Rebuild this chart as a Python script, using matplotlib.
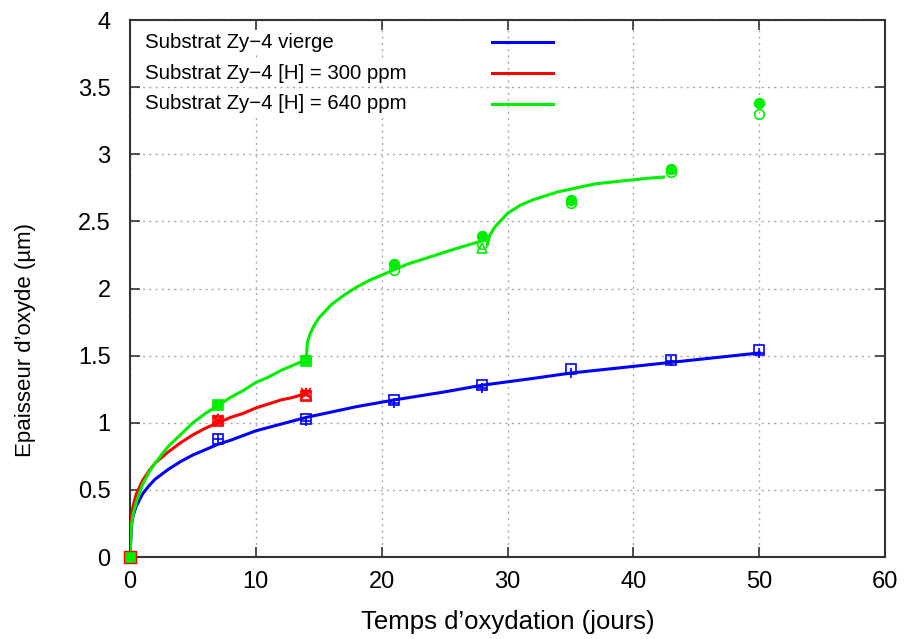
import matplotlib
matplotlib.use("Agg")
import matplotlib.pyplot as plt
from matplotlib.lines import Line2D

plt.rcParams['font.family'] = ['Liberation Sans', 'DejaVu Sans']

# ---- measured points ----
# Substrat Zy-4 vierge (blue)
blue_t = [0, 7, 14, 21, 28, 35, 43, 50]
blue_sq = [0, 0.88, 1.03, 1.17, 1.28, 1.40, 1.47, 1.54]
blue_plus = [0, 0.88, 1.01, 1.15, 1.26, 1.37, 1.46, 1.52]

# Substrat Zy-4 [H] = 300 ppm (red)
red_t = [0, 7, 14]
red_sq = [0, 1.01, 1.20]
red_x = [0, 1.02, 1.22]
red_star = [0, 1.03, 1.22]
red_tri = [0, 1.02, 1.21]

# Substrat Zy-4 [H] = 640 ppm (green)
green_sq_t = [0, 7, 14]
green_sq = [0, 1.13, 1.46]
green_fc_t = [14, 21, 28, 35, 43, 50]
green_fc = [1.47, 2.18, 2.39, 2.66, 2.89, 3.38]
green_oc_t = [21, 28, 35, 43, 50]
green_oc = [2.14, 2.33, 2.64, 2.87, 3.30]
green_tri_t = [28]
green_tri = [2.30]

# ---- fitted curves ----
blue_ct = [0, 0.1, 0.25, 0.5, 1, 1.5, 2, 3, 4, 5, 6, 7, 8, 10, 12, 14, 16, 18, 21, 25, 28,
           32, 35, 40, 43, 47, 50]
blue_cv = [0, 0.23, 0.31, 0.38, 0.47, 0.53, 0.58, 0.65, 0.71, 0.76, 0.80, 0.84, 0.87, 0.94,
           0.99, 1.04, 1.08, 1.12, 1.17, 1.23, 1.28, 1.33, 1.37, 1.42, 1.45, 1.49, 1.52]

red_ct = [0, 0.1, 0.25, 0.5, 1, 1.5, 2, 3, 4, 5, 6, 7, 8, 9, 10, 11, 12, 13, 14]
red_cv = [0, 0.30, 0.38, 0.47, 0.57, 0.64, 0.70, 0.78, 0.85, 0.91, 0.96, 1.00, 1.04, 1.07,
          1.11, 1.14, 1.17, 1.19, 1.22]

green1_ct = [0, 0.1, 0.25, 0.5, 1, 1.5, 2, 3, 4, 5, 6, 7, 8, 9, 10, 11, 12, 13, 14]
green1_cv = [0, 0.23, 0.32, 0.41, 0.54, 0.63, 0.70, 0.82, 0.91, 1.00, 1.07, 1.13, 1.19, 1.24,
             1.30, 1.34, 1.39, 1.43, 1.47]
green2_ct = [14, 14.1, 14.3, 14.6, 15, 15.5, 16, 17, 18, 19, 20, 22, 24, 26, 27.8]
green2_cv = [1.47, 1.60, 1.66, 1.72, 1.78, 1.83, 1.88, 1.95, 2.01, 2.06, 2.10, 2.18, 2.24,
             2.30, 2.35]
green3_ct = [28.4, 28.6, 29, 29.5, 30, 31, 32, 33, 34, 35, 36, 37, 38, 39, 40, 41, 42.4]
green3_cv = [2.33, 2.40, 2.46, 2.51, 2.56, 2.62, 2.66, 2.69, 2.72, 2.74, 2.76, 2.78, 2.79,
             2.80, 2.81, 2.82, 2.83]

labels = ["Substrat Zy\u22124 vierge",
          "Substrat Zy\u22124 [H] = 300 ppm",
          "Substrat Zy\u22124 [H] = 640 ppm"]
x_ticks = [0, 10, 20, 30, 40, 50, 60]
y_ticks = [0, 0.5, 1, 1.5, 2, 2.5, 3, 3.5, 4]
y_ticklabels = ["0", "0.5", "1", "1.5", "2", "2.5", "3", "3.5", "4"]

BLUE = "#0000ff"
RED = "#ff0000"
GREEN = "#00ee00"

fig = plt.figure(figsize=(9.06, 6.39), dpi=100)
ax = fig.add_axes([0.1435, 0.1283, 0.8335, 0.8404])

lw = 2.2
ms = 7
mew = 1.2
# curves
ax.plot(blue_ct, blue_cv, color=BLUE, lw=lw, zorder=3)
ax.plot(red_ct, red_cv, color=RED, lw=lw, zorder=3)
ax.plot(green1_ct, green1_cv, color=GREEN, lw=lw, zorder=3)
ax.plot(green2_ct, green2_cv, color=GREEN, lw=lw, zorder=3)
ax.plot(green3_ct, green3_cv, color=GREEN, lw=lw, zorder=3)

# markers
ax.plot(blue_t, blue_sq, ls='none', marker='s', ms=ms, mfc='none', mec=BLUE, mew=mew, zorder=4)
ax.plot(blue_t, blue_plus, ls='none', marker='+', ms=ms, mec=BLUE, mew=mew, zorder=4)

ax.plot(red_t, red_sq, ls='none', marker='s', ms=ms, mfc='none', mec=RED, mew=mew, zorder=4)
ax.plot(red_t, red_x, ls='none', marker='x', ms=ms, mec=RED, mew=mew, zorder=4)
ax.plot(red_t, red_star, ls='none', marker='*', ms=ms, mfc='none', mec=RED, mew=mew, zorder=4)
ax.plot(red_t, red_tri, ls='none', marker='^', ms=ms, mfc='none', mec=RED, mew=mew, zorder=4)

ax.plot(green_sq_t, green_sq, ls='none', marker='s', ms=ms, mfc=GREEN, mec=GREEN, mew=mew, zorder=5)
ax.plot(green_fc_t, green_fc, ls='none', marker='o', ms=ms, mfc=GREEN, mec=GREEN, mew=mew, zorder=5)
ax.plot(green_oc_t, green_oc, ls='none', marker='o', ms=ms, mfc='none', mec=GREEN, mew=mew, zorder=5)
ax.plot(green_tri_t, green_tri, ls='none', marker='^', ms=ms, mfc='none', mec=GREEN, mew=mew, zorder=5)
# origin: green filled square with red outline
ax.plot(green_sq_t[:1], green_sq[:1], ls='none', marker='s', ms=ms + 1, mfc=GREEN, mec=RED,
        mew=1.0, zorder=6, clip_on=False)

ax.set_xlim(x_ticks[0], x_ticks[-1])
ax.set_ylim(y_ticks[0], y_ticks[-1])
ax.set_xticks(x_ticks)
ax.set_yticks(y_ticks)
ax.set_yticklabels(y_ticklabels)
ax.tick_params(direction='in', length=7, width=1.2, top=True, right=True,
               labelsize=17, colors='#333333', labelcolor='black')
ax.tick_params(axis='y', pad=14)
ax.tick_params(axis='x', pad=10)
ax.grid(True, color='#aaaaaa', ls=(0, (1.5, 3)), lw=1.0)
for s in ax.spines.values():
    s.set_linewidth(1.5)
    s.set_color('#333333')
ax.set_axisbelow(True)

ax.set_xlabel("Temps d\u2019oxydation (jours)", fontsize=18.5, labelpad=12)
ax.set_ylabel("Epaisseur d\u2019oxyde (\u00b5m)", fontsize=16, labelpad=20)
ax.yaxis.set_label_coords(-0.125, 0.404)

# legend (gnuplot style: text left, line right)
leg_colors = [BLUE, RED, GREEN]
leg_y = [0.959, 0.901, 0.844]
for lab, c, yy in zip(labels, leg_colors, leg_y):
    ax.text(0.02, yy, lab, transform=ax.transAxes, fontsize=14.7, va='center', ha='left',
            bbox=dict(facecolor='white', edgecolor='none', pad=1.5), zorder=7)
    ax.add_line(Line2D([0.4795, 0.5595], [yy, yy], transform=ax.transAxes, color=c, lw=lw, zorder=7))

fig.savefig("out.png", dpi=100)
